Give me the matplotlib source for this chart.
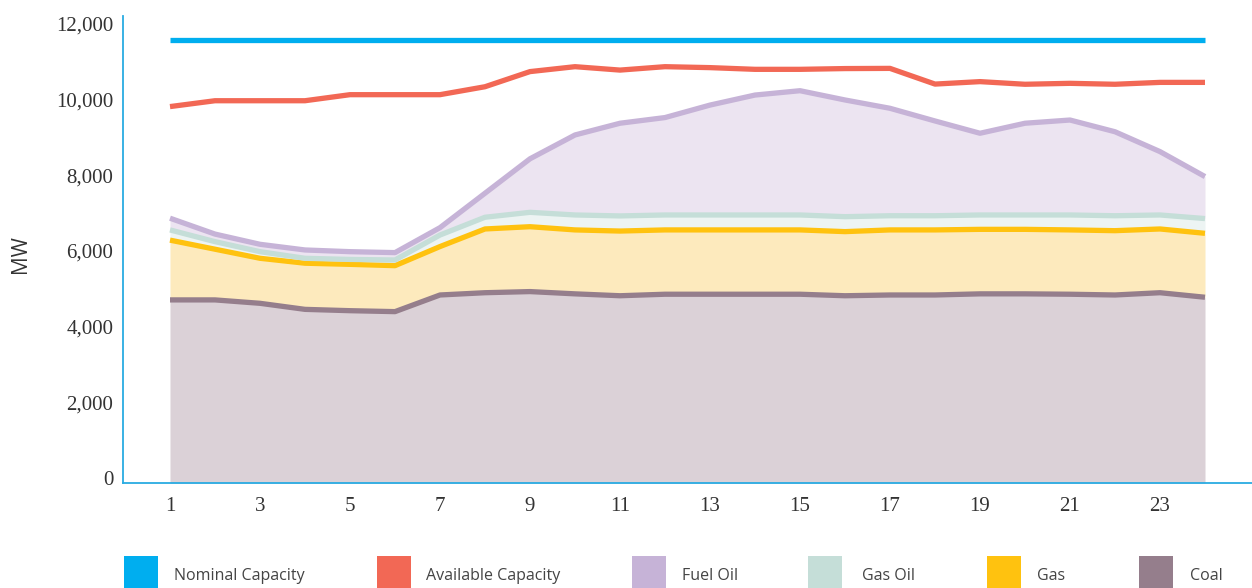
import matplotlib
matplotlib.use("Agg")
import matplotlib.pyplot as plt
import matplotlib.transforms as mtransforms
from matplotlib.patches import Rectangle
import numpy as np

hours = list(range(1, 25))
nominal_capacity = [11720] * 24
available_capacity = [9950, 10105, 10105, 10105, 10265, 10265, 10265, 10475, 10875, 11005,
                      10915, 11005, 10980, 10935, 10935, 10955, 10960, 10545, 10610, 10540,
                      10565, 10540, 10590, 10590]
coal = [4840, 4840, 4750, 4590, 4555, 4530, 4970, 5030, 5060, 5000, 4950, 4990,
        4990, 4990, 4990, 4950, 4970, 4970, 5000, 5000, 4990, 4970, 5030, 4910]
gas = [1580, 1340, 1190, 1220, 1225, 1215, 1280, 1685, 1715, 1690, 1710, 1700,
       1700, 1700, 1700, 1695, 1720, 1720, 1705, 1705, 1700, 1700, 1685, 1690]
gas_oil = [270, 200, 175, 130, 130, 150, 305, 310, 380, 395, 400, 395,
           395, 395, 395, 395, 375, 375, 380, 380, 395, 395, 370, 390]
fuel_oil = [310, 200, 195, 220, 205, 195, 195, 635, 1415, 2115, 2450, 2575,
            2905, 3170, 3285, 3085, 2840, 2505, 2160, 2425, 2510, 2220, 1675, 1110]

y_ticks = [0, 2000, 4000, 6000, 8000, 10000, 12000]
x_ticks = [1, 3, 5, 7, 9, 11, 13, 15, 17, 19, 21, 23]
legend_labels = ["Nominal Capacity", "Available Capacity", "Fuel Oil", "Gas Oil", "Gas", "Coal"]

c_nom = "#00AEEF"
c_avail = "#F26855"
c_fuel_l, c_fuel_f = "#C6B3D7", "#ECE4F1"
c_goil_l, c_goil_f = "#C5DED8", "#EDF4F3"
c_gas_l, c_gas_f = "#FFC20F", "#FDEABD"
c_coal_l, c_coal_f = "#957E8C", "#DBD1D7"
axis_col = "#29ABE2"

W, H = 1252, 588
fig = plt.figure(figsize=(W / 100, H / 100), dpi=100)
ax = fig.add_axes([123 / W, 1 - 483 / H, 1 - 123 / W, (483 - 16) / H])

x = np.array(hours)
s1 = np.array(coal)
s2 = s1 + np.array(gas)
s3 = s2 + np.array(gas_oil)
s4 = s3 + np.array(fuel_oil)

ax.fill_between(x, 0, s1, color=c_coal_f, lw=0, zorder=1)
ax.fill_between(x, s1, s2, color=c_gas_f, lw=0, zorder=1)
ax.fill_between(x, s2, s3, color=c_goil_f, lw=0, zorder=1)
ax.fill_between(x, s3, s4, color=c_fuel_f, lw=0, zorder=1)

lw = 3.8
ax.plot(x, s1, color=c_coal_l, lw=lw, zorder=3, solid_capstyle="butt")
ax.plot(x, s2, color=c_gas_l, lw=lw, zorder=3, solid_capstyle="butt")
ax.plot(x, s3, color=c_goil_l, lw=lw, zorder=3, solid_capstyle="butt")
ax.plot(x, s4, color=c_fuel_l, lw=lw, zorder=3, solid_capstyle="butt")
ax.plot(x, available_capacity, color=c_avail, lw=lw, zorder=4, solid_capstyle="butt")
ax.plot(x, nominal_capacity, color=c_nom, lw=lw, zorder=4, solid_capstyle="butt")

ax.set_xlim(1 - 47 / 45, 1 + (1252 - 170) / 45)
ax.set_ylim(0, (483 - 16) / 37.83 * 1000)
ax.set_yticks(y_ticks)
ax.set_yticklabels([f"{v:,}" for v in y_ticks])
ax.set_xticks(x_ticks)
ax.set_xticklabels([str(v) for v in x_ticks])

for sp in ["top", "right"]:
    ax.spines[sp].set_visible(False)
for sp in ["left", "bottom"]:
    ax.spines[sp].set_color(axis_col)
    ax.spines[sp].set_linewidth(1.3)

ax.tick_params(axis="both", length=0, labelsize=15, labelcolor="#333333")
ax.tick_params(axis="y", pad=7)
ax.tick_params(axis="x", pad=10)
up = mtransforms.ScaledTranslation(0, 5 / 100, fig.dpi_scale_trans)
for lab in ax.get_yticklabels():
    lab.set_family("Liberation Serif")
    lab.set_transform(lab.get_transform() + up)
for lab in ax.get_xticklabels():
    lab.set_family("Liberation Serif")

fig.text(20 / W, 1 - 254 / H, "MW", rotation=90, ha="center", va="center",
         fontsize=15, family="Open Sans", color="#333333")

leg_colors = [c_nom, c_avail, c_fuel_l, c_goil_l, c_gas_l, c_coal_l]
sq_x = [124, 377, 632, 808, 987, 1139]
tx_x = [174, 426, 682, 862, 1037, 1190]
for lab, col, sx, tx in zip(legend_labels, leg_colors, sq_x, tx_x):
    fig.add_artist(Rectangle((sx / W, 1 - 592 / H), 34 / W, 36 / H,
                             transform=fig.transFigure, color=col, lw=0))
    fig.text(tx / W, 1 - 576 / H, lab, ha="left", va="center",
             fontsize=11.5, family="Open Sans", color="#444444")

fig.savefig("out.png", dpi=100)
